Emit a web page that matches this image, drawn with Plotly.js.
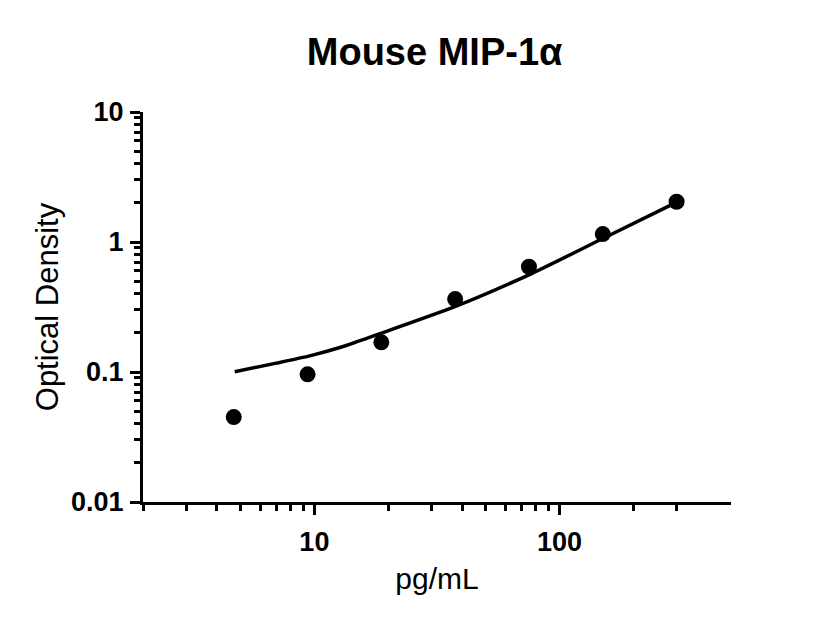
<!DOCTYPE html>
<html>
<head>
<meta charset="utf-8">
<script src="https://cdn.plot.ly/plotly-3.0.1.min.js"></script>
<style>
  html, body { margin: 0; padding: 0; background: #ffffff; }
  #chart { width: 820px; height: 624px; }
</style>
</head>
<body>
<div id="chart"></div>
<script>
// Standard points (concentration pg/mL vs OD)
const conc = [4.69, 9.38, 18.75, 37.5, 75, 150, 300];
const od = [0.045, 0.096, 0.169, 0.364, 0.645, 1.15, 2.04];

// Fitted curve
const fitConc = [4.73, 7.0, 9.57, 13.1, 17.9, 37.4, 76.9, 148, 295];
const fitOd = [0.1005, 0.117, 0.133, 0.157, 0.193, 0.318, 0.572, 1.05, 1.99];

// Axis ticks
const xMajor = [10, 100];
const xMajorText = ['10', '100'];
const xMinor = [2, 3, 4, 5, 6, 7, 8, 9, 20, 30, 40, 50, 60, 70, 80, 90, 200, 300];
const yMajor = [0.01, 0.1, 1, 10];
const yMajorText = ['0.01', '0.1', '1', '10'];
const yMinor = [0.02, 0.03, 0.04, 0.05, 0.06, 0.07, 0.08, 0.09,
                0.2, 0.3, 0.4, 0.5, 0.6, 0.7, 0.8, 0.9,
                2, 3, 4, 5, 6, 7, 8, 9];

const FONT = 'Arial, "Liberation Sans", Helvetica, sans-serif';

const curve = {
    x: fitConc,
    y: fitOd,
    mode: 'lines',
    type: 'scatter',
    line: {color: '#000', width: 3.5, shape: 'spline', smoothing: 0.6},
    hoverinfo: 'skip'
};

const points = {
    x: conc,
    y: od,
    mode: 'markers',
    type: 'scatter',
    marker: {color: '#000', size: 16, symbol: 'circle'}
};

const axisBase = {
    type: 'log',
    showgrid: false,
    zeroline: false,
    showline: true,
    linecolor: '#000',
    linewidth: 3,
    ticks: 'outside',
    ticklen: 10,
    tickwidth: 3,
    tickcolor: '#000',
    tickmode: 'array',
    tickfont: {family: FONT, size: 27, color: '#000', weight: 'bold'},
    automargin: false,
    fixedrange: true
};

Plotly.newPlot('chart', [curve, points], {
    width: 820,
    height: 624,
    paper_bgcolor: '#fff',
    plot_bgcolor: 'rgba(0,0,0,0)',
    showlegend: false,
    margin: {l: 143, r: 89, t: 112, b: 122},
    title: {
        text: '<b>Mouse MIP-1α</b>',
        font: {family: FONT, size: 38, color: '#000'},
        x: 0.53,
        xanchor: 'center',
        yref: 'container',
        y: 0.917,
        yanchor: 'middle'
    },
    xaxis: Object.assign({}, axisBase, {
        range: [Math.log10(2), Math.log10(500)],
        tickvals: xMajor,
        ticktext: xMajorText,
        ticklabelstandoff: 4,
        minor: {tickmode: 'array', tickvals: xMinor, ticks: 'outside', ticklen: 6, tickwidth: 3, tickcolor: '#000', showgrid: false},
        title: {text: 'pg/mL', font: {family: FONT, size: 30, color: '#000'}, standoff: 12}
    }),
    yaxis: Object.assign({}, axisBase, {
        range: [-2, 1],
        tickvals: yMajor,
        ticktext: yMajorText,
        ticklabelstandoff: 1,
        minor: {tickmode: 'array', tickvals: yMinor, ticks: 'outside', ticklen: 6, tickwidth: 3, tickcolor: '#000', showgrid: false},
        title: {text: 'Optical Density', font: {family: FONT, size: 31, color: '#000'}, standoff: 4}
    })
}, {displayModeBar: false, staticPlot: true});
</script>
</body>
</html>
